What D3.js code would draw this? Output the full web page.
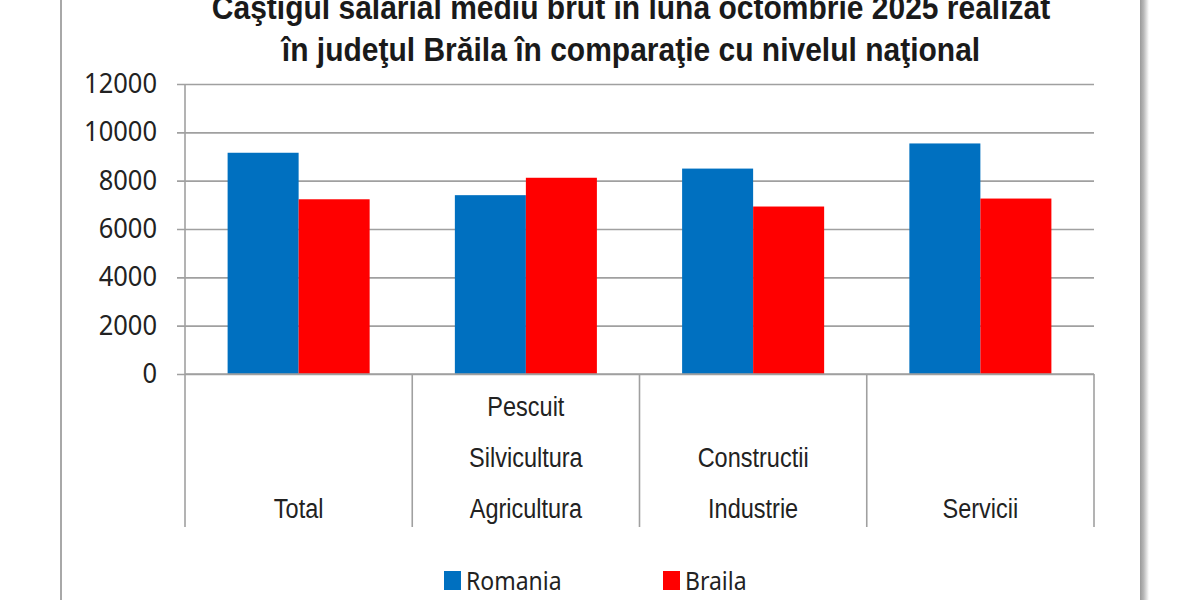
<!DOCTYPE html>
<html>
<head>
<meta charset="utf-8">
<script src="https://cdn.jsdelivr.net/npm/d3@7"></script>
<style>
  body { margin: 0; background: #fff; }
  svg { display: block; }
</style>
</head>
<body>
<svg id="chart"></svg>
<script>
// Chart data
var categories = ["Total", "Agricultura", "Industrie", "Servicii"];
// label lines as drawn, top to bottom
var categoryLines = [
  ["Total"],
  ["Pescuit", "Silvicultura", "Agricultura"],
  ["Constructii", "Industrie"],
  ["Servicii"]
];
var series = ["Romania", "Braila"];
var romania = [9155, 7400, 8500, 9540];
var braila = [7230, 8120, 6930, 7260];
var yTicks = [0, 2000, 4000, 6000, 8000, 10000, 12000];
var titleLines = [
  "Caştigul salarial mediu brut în luna octombrie 2025 realizat",
  "în judeţul Brăila în comparaţie cu nivelul naţional"
];

var colors = { "Romania": "#0070C0", "Braila": "#FF0000" };

//Size of the picture
var svgWidth = 1200;
var svgHeight = 600;

//Plot area
var plotLeft = 185;
var plotRight = 1094;
var plotTop = 84;
var plotBottom = 374;
var labelBottom = 527;

var svg = d3.select("#chart")
    .attr("width", svgWidth)
    .attr("height", svgHeight);

var defs = svg.append("defs");
var shadow = defs.append("linearGradient").attr("id", "shadow");
shadow.append("stop").attr("offset", "0%").attr("stop-color", "#9a9a9a");
shadow.append("stop").attr("offset", "40%").attr("stop-color", "#b8b8b8");
shadow.append("stop").attr("offset", "100%").attr("stop-color", "#ffffff");

//Frame of the picture
svg.append("rect")
    .attr("x", 60).attr("y", 0)
    .attr("width", 2).attr("height", svgHeight)
    .attr("fill", "#a8a8a8");
svg.append("rect")
    .attr("x", 1140).attr("y", 0)
    .attr("width", 9).attr("height", svgHeight)
    .attr("fill", "url(#shadow)");

//Scales
var x0 = d3.scaleBand(categories, [plotLeft, plotRight]);
var x1 = d3.scaleBand(series, [0, x0.bandwidth()]).paddingOuter(0.6);
var y = d3.scaleLinear([0, 12000], [plotBottom, plotTop]);

//text that is stretched up a bit, as in the picture
function stretchedText(parent, tx, ty, k, str) {
  return parent.append("g")
      .attr("transform", "translate(" + tx + "," + ty + ") scale(1," + k + ")")
    .append("text")
      .text(str);
}

//Gridlines and y labels
var yAxis = d3.axisLeft(y)
    .tickValues(yTicks)
    .tickSize(-(plotRight - plotLeft))
    .tickSizeOuter(0)
    .tickFormat("");
var gy = svg.append("g")
    .attr("transform", "translate(" + plotLeft + ",0)")
    .call(yAxis);
gy.select(".domain").remove();
gy.selectAll(".tick line")
    .attr("x1", -8)
    .attr("stroke", "#a0a0a0")
    .attr("stroke-width", 1.6);

yTicks.forEach(function (t) {
  stretchedText(svg, 157, y(t) + 9, 1.1, t)
      .attr("text-anchor", "end")
      .attr("font-family", "'Noto Sans', sans-serif")
      .attr("font-size", 25.5)
      .attr("fill", "#222");
});

//Bars
var rows = categories.map(function (c, i) {
  return { cat: c, values: [{ s: "Romania", v: romania[i] }, { s: "Braila", v: braila[i] }] };
});

svg.append("g").selectAll("g")
    .data(rows)
    .enter()
    .append("g")
    .attr("transform", function (d) { return "translate(" + x0(d.cat) + ",0)"; })
    .selectAll("rect")
    .data(function (d) { return d.values; })
    .enter()
    .append("rect")
    .attr("x", function (d) { return x1(d.s); })
    .attr("y", function (d) { return y(d.v); })
    .attr("width", x1.bandwidth())
    .attr("height", function (d) { return y(0) - y(d.v); })
    .attr("fill", function (d) { return colors[d.s]; });

//Y axis line and category separators
var sepX = categories.map(function (c) { return x0(c); }).concat([plotRight]);
svg.append("line")
    .attr("x1", plotLeft).attr("x2", plotLeft)
    .attr("y1", plotTop).attr("y2", labelBottom)
    .attr("stroke", "#a0a0a0").attr("stroke-width", 1.6);
svg.append("g").selectAll("line")
    .data(sepX.slice(1))
    .enter()
    .append("line")
    .attr("x1", function (d) { return d; })
    .attr("x2", function (d) { return d; })
    .attr("y1", plotBottom)
    .attr("y2", labelBottom)
    .attr("stroke", "#a0a0a0")
    .attr("stroke-width", 1.6);
svg.append("line")
    .attr("x1", plotLeft).attr("x2", plotRight)
    .attr("y1", plotBottom).attr("y2", plotBottom)
    .attr("stroke", "#a0a0a0").attr("stroke-width", 1.6);

//Category labels, bottom aligned
var lineGap = 51;
categories.forEach(function (c, i) {
  var lines = categoryLines[i];
  var cx = x0(c) + x0.bandwidth() / 2;
  lines.forEach(function (l, j) {
    var by = 518 - (lines.length - 1 - j) * lineGap;
    stretchedText(svg, cx, by, 1.18, l)
        .attr("text-anchor", "middle")
        .attr("font-family", "'Liberation Sans', Arial, sans-serif")
        .attr("font-size", 23.5)
        .attr("fill", "#222");
  });
});

//Title
titleLines.forEach(function (t, i) {
  stretchedText(svg, 631, 19 + i * 42, 1.12, t)
      .attr("text-anchor", "middle")
      .attr("font-family", "'Liberation Sans', Arial, sans-serif")
      .attr("font-weight", "bold")
      .attr("font-size", 30)
      .attr("fill", "#1a1a1a");
});

//Legend
var legendX = [444, 663];
series.forEach(function (s, i) {
  svg.append("rect")
      .attr("x", legendX[i]).attr("y", 571)
      .attr("width", 17).attr("height", 19)
      .attr("fill", colors[s]);
  stretchedText(svg, legendX[i] + 22, 590, 1.1, s)
      .attr("font-family", "'Noto Sans', sans-serif")
      .attr("font-size", 23)
      .attr("fill", "#222");
});
</script>
</body>
</html>
